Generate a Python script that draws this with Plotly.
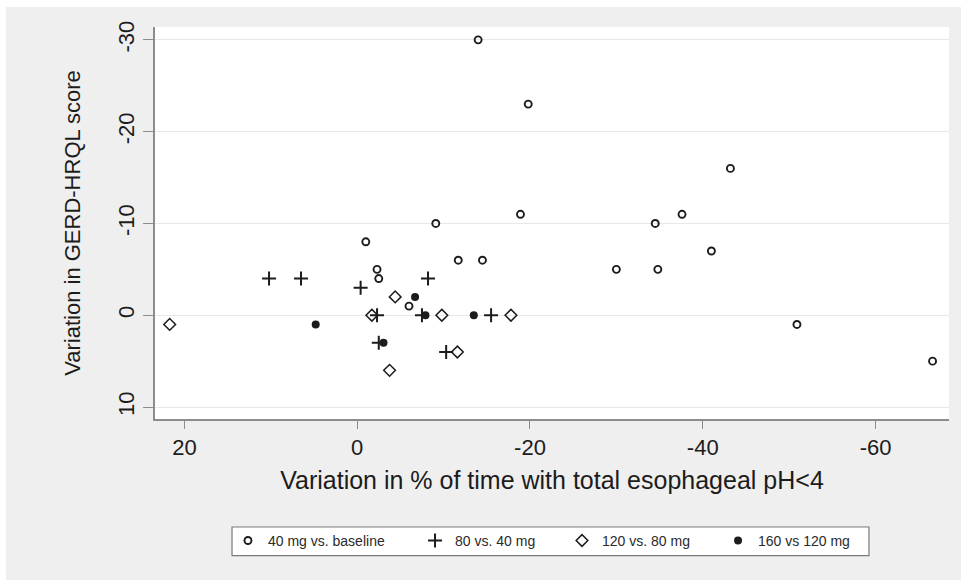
import plotly.graph_objects as go

# Change in % time with oesophageal pH<4 (x) vs change in GERD-HRQL score (y)
base40_x = [-14.0, -19.8, -43.2, -9.1, -1.0, -2.3, -2.5, -11.7, -14.5,
            -18.9, -30.0, -34.5, -34.8, -37.6, -41.0, -50.9, -66.6, -6.0]
base40_y = [-30, -23, -16, -10, -8, -5, -4, -6, -6,
            -11, -5, -10, -5, -11, -7, 1, 5, -1]

d80_x = [10.2, 6.5, -0.4, -8.2, -2.3, -2.5, -7.5, -10.3, -15.5]
d80_y = [-4, -4, -3, -4, 0, 3, 0, 4, 0]

d120_x = [21.7, -4.4, -9.8, -11.6, -3.75, -17.8, -1.7]
d120_y = [1, -2, 0, 4, 6, 0, 0]

d160_x = [4.8, -6.7, -7.9, -13.5, -3.05]
d160_y = [1, -2, 0, 0, 3]

series_names = ["40 mg vs. baseline", "80 vs. 40 mg", "120 vs. 80 mg", "160 vs 120 mg"]

x_ticks = [20, 0, -20, -40, -60]
y_ticks = [-30, -20, -10, 0, 10]

FONT = "Liberation Sans, Arial, sans-serif"
INK = "#1c1c1c"

fig = go.Figure()
fig.add_trace(go.Scatter(
    x=base40_x, y=base40_y, mode="markers", name=series_names[0], legend="legend",
    marker=dict(symbol="circle-open", size=7, color=INK, line=dict(width=1.9, color=INK)),
))
fig.add_trace(go.Scatter(
    x=d80_x, y=d80_y, mode="markers", name=series_names[1], legend="legend2",
    marker=dict(symbol="cross-thin-open", size=10, color=INK, line=dict(width=2, color=INK)),
))
fig.add_trace(go.Scatter(
    x=d120_x, y=d120_y, mode="markers", name=series_names[2], legend="legend3",
    marker=dict(symbol="diamond-open", size=9, color=INK, line=dict(width=1.5, color=INK)),
))
fig.add_trace(go.Scatter(
    x=d160_x, y=d160_y, mode="markers", name=series_names[3], legend="legend4",
    marker=dict(symbol="circle", size=8, color=INK, line=dict(width=0)),
))

legend_common = dict(
    orientation="h", yanchor="middle", xanchor="left", y=-0.311,
    bgcolor="rgba(0,0,0,0)", borderwidth=0,
    font=dict(family=FONT, size=14, color="#2a2a2a"),
)

fig.update_layout(
    width=961, height=580,
    margin=dict(l=155, r=12, t=27, b=161),
    paper_bgcolor="white",
    plot_bgcolor="white",
    font=dict(family=FONT, color=INK),
    showlegend=True,
    legend=dict(x=0.0919, **legend_common),
    legend2=dict(x=0.3275, **legend_common),
    legend3=dict(x=0.5126, **legend_common),
    legend4=dict(x=0.7091, **legend_common),
    shapes=[
        # grey outer region of the graph
        dict(type="rect", xref="paper", yref="paper", x0=-0.1877, x1=1.02, y0=-0.42, y1=1.051,
             fillcolor="#efefef", line=dict(width=0), layer="below"),
        # white plot region
        dict(type="rect", xref="paper", yref="paper", x0=0, x1=1, y0=0, y1=1,
             fillcolor="white", line=dict(width=0), layer="below"),
        # legend frame
        dict(type="rect", xref="paper", yref="paper", x0=0.0970, x1=0.8992, y0=-0.3487, y1=-0.2755,
             fillcolor="white", line=dict(width=1.2, color="#7a7a7a"), layer="below"),
    ],
)

fig.update_xaxes(
    range=[23.4, -68.5], tickvals=x_ticks, ticktext=[str(v) for v in x_ticks],
    showgrid=False, zeroline=False,
    showline=True, linecolor="#8c8c8c", linewidth=1.5,
    ticks="outside", ticklen=8, tickwidth=1.3, tickcolor="#8c8c8c",
    tickfont=dict(family=FONT, size=22, color=INK),
    title=dict(text="Variation in % of time with total esophageal pH<4",
               font=dict(family=FONT, size=25, color=INK), standoff=12),
)
fig.update_yaxes(
    range=[11.3, -31.4], tickvals=y_ticks, ticktext=[str(v) for v in y_ticks],
    tickangle=-90,
    showgrid=True, gridcolor="#e8e8e8", gridwidth=1.3, zeroline=False,
    showline=True, linecolor="#8c8c8c", linewidth=1.5,
    ticks="outside", ticklen=10, tickwidth=1.3, tickcolor="#8c8c8c",
    tickfont=dict(family=FONT, size=22, color=INK),
    title=dict(text="Variation in GERD-HRQL score",
               font=dict(family=FONT, size=22, color=INK), standoff=28),
)

fig.write_html("out.html")
